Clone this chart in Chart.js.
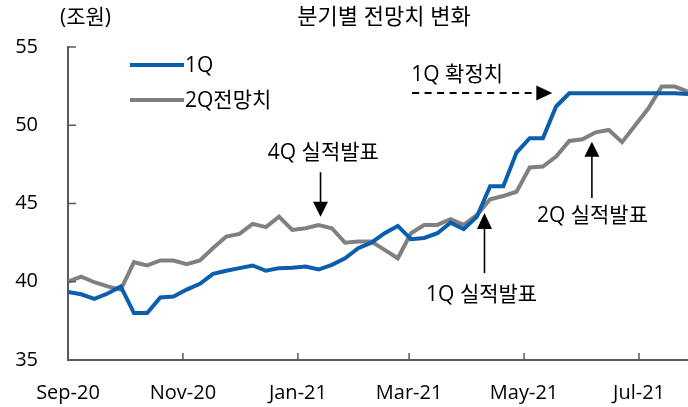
<!DOCTYPE html>
<html><head><meta charset="utf-8">
<script src="https://cdn.jsdelivr.net/npm/chart.js@4/dist/chart.umd.min.js"></script>
<style>html,body{margin:0;padding:0;background:#fff}#wrap{width:688px;height:407px}</style>
</head><body><div id="wrap"><canvas id="c" width="688" height="407"></canvas></div>
<script>
// ---- data ----
const weeks = [
 '2020-09-01','2020-09-08','2020-09-15','2020-09-22','2020-09-29',
 '2020-10-06','2020-10-13','2020-10-20','2020-10-27',
 '2020-11-03','2020-11-10','2020-11-17','2020-11-24',
 '2020-12-01','2020-12-08','2020-12-15','2020-12-22','2020-12-29',
 '2021-01-05','2021-01-12','2021-01-19','2021-01-26',
 '2021-02-02','2021-02-09','2021-02-16','2021-02-23',
 '2021-03-02','2021-03-09','2021-03-16','2021-03-23','2021-03-30',
 '2021-04-06','2021-04-13','2021-04-20','2021-04-27',
 '2021-05-04','2021-05-11','2021-05-18','2021-05-25',
 '2021-06-01','2021-06-08','2021-06-15','2021-06-22','2021-06-29',
 '2021-07-06','2021-07-13','2021-07-20','2021-07-27'
];
const series1Q = [39.35,39.2,38.9,39.25,39.7,38.0,38.0,39.0,39.05,39.5,39.87,40.5,40.7,40.87,41.04,40.7,40.87,40.9,40.97,40.78,41.08,41.5,42.14,42.5,43.1,43.57,42.72,42.8,43.1,43.78,43.36,44.16,46.1,46.1,48.25,49.17,49.17,51.2,52.04,52.04,52.04,52.04,52.04,52.04,52.04,52.04,52.04,52.0];
const series2Q = [40.0,40.33,39.97,39.7,39.5,41.25,41.04,41.36,41.36,41.12,41.36,42.15,42.89,43.06,43.7,43.49,44.16,43.31,43.42,43.63,43.42,42.5,42.57,42.57,42.04,41.5,43.1,43.63,43.63,44.0,43.63,44.27,45.27,45.48,45.75,47.3,47.36,48.0,49.0,49.1,49.55,49.7,48.92,50.0,51.08,52.47,52.47,52.15];
const seriesNames = ['1Q','2Q전망치'];
const tickDates = ['2020-09-01','2020-11-01','2021-01-01','2021-03-01','2021-05-01','2021-07-01'];
const tickLabels = ['Sep-20','Nov-20','Jan-21','Mar-21','May-21','Jul-21'];
const yTicks = [35,40,45,50,55];
const titleText = '분기별 전망치 변화';
const unitText = '(조원)';

// ---- helpers ----
const T0 = Date.parse('2020-09-01');
const dayOf = s => (Date.parse(s) - T0) / 86400000;
const xDays = weeks.map(dayOf);
const tickDays = tickDates.map(dayOf);
const F = '"Open Sans","Noto Sans CJK KR",sans-serif';
const BLUE = '#0B5DAE', GRAY = '#808080', AXIS = '#595959';

function arrowHead(ctx, tx, ty, dir, w, h){ // dir: 'down','up','right'
  ctx.beginPath();
  if(dir==='down'){ctx.moveTo(tx,ty);ctx.lineTo(tx-w/2,ty-h);ctx.lineTo(tx+w/2,ty-h);}
  else if(dir==='up'){ctx.moveTo(tx,ty);ctx.lineTo(tx-w/2,ty+h);ctx.lineTo(tx+w/2,ty+h);}
  else {ctx.moveTo(tx,ty);ctx.lineTo(tx-h,ty-w/2);ctx.lineTo(tx-h,ty+w/2);}
  ctx.closePath(); ctx.fill();
}

const deco = {
  id:'deco',
  afterDatasetsDraw(chart){
    const {ctx, chartArea:ca, scales:{x,y}} = chart;
    ctx.save();
    // inner tick marks
    ctx.strokeStyle = AXIS; ctx.lineWidth = 1.5;
    yTicks.forEach(v=>{ if(v===35) return; const py=y.getPixelForValue(v);
      ctx.beginPath(); ctx.moveTo(ca.left,py); ctx.lineTo(ca.left+8,py); ctx.stroke(); });
    tickDays.forEach(d=>{ if(d===0) return; const px=x.getPixelForValue(d);
      ctx.beginPath(); ctx.moveTo(px,ca.bottom); ctx.lineTo(px,ca.bottom-7); ctx.stroke(); });

    ctx.fillStyle = '#000'; ctx.textBaseline = 'middle';
    // title & unit
    ctx.font = '22px '+F; ctx.textAlign='center';
    ctx.fillText(titleText, 384, 18);
    ctx.font = '21px '+F; ctx.textAlign='left';
    ctx.fillText(unitText, 60, 18);

    // legend
    [[BLUE,65,seriesNames[0]],[GRAY,100,seriesNames[1]]].forEach(([c,ly,t])=>{
      ctx.strokeStyle=c; ctx.lineWidth=4; ctx.beginPath(); ctx.moveTo(130,ly); ctx.lineTo(184,ly); ctx.stroke();
      ctx.fillStyle='#000'; ctx.font='21px '+F; ctx.textAlign='left'; ctx.fillText(t,185,ly+1);
    });

    // annotations
    ctx.strokeStyle='#000'; ctx.fillStyle='#000'; ctx.lineWidth=1.6;
    ctx.font='21px '+F; ctx.textAlign='center';
    // 4Q (down arrow)
    let ax=x.getPixelForValue(134), y1=y.getPixelForValue(47.0), y2=y.getPixelForValue(44.15);
    ctx.beginPath(); ctx.moveTo(ax,y1); ctx.lineTo(ax,y2-12); ctx.stroke(); arrowHead(ctx,ax,y2,'down',15,15);
    ctx.fillText('4Q 실적발표', x.getPixelForValue(135.5), y1-19);
    // 1Q (up arrow)
    ax=x.getPixelForValue(221); y1=y.getPixelForValue(40.55); y2=y.getPixelForValue(44.4);
    ctx.beginPath(); ctx.moveTo(ax,y1); ctx.lineTo(ax,y2+12); ctx.stroke(); arrowHead(ctx,ax,y2,'up',15,16);
    ctx.fillText('1Q 실적발표', x.getPixelForValue(219.5), y1+22);
    // 2Q (up arrow)
    ax=x.getPixelForValue(278); y1=y.getPixelForValue(45.35); y2=y.getPixelForValue(48.95);
    ctx.beginPath(); ctx.moveTo(ax,y1); ctx.lineTo(ax,y2+12); ctx.stroke(); arrowHead(ctx,ax,y2,'up',15,15);
    ctx.fillText('2Q 실적발표', x.getPixelForValue(278.3), y1+18);
    // 1Q 확정치 (dashed right arrow)
    const dy=y.getPixelForValue(52.06), dx1=x.getPixelForValue(182.6), dx2=x.getPixelForValue(257);
    ctx.lineWidth=2; ctx.setLineDash([7,5.5]);
    ctx.beginPath(); ctx.moveTo(dx1,dy); ctx.lineTo(dx2-12,dy); ctx.stroke(); ctx.setLineDash([]);
    arrowHead(ctx,dx2,dy,'right',15,16);
    ctx.fillText('1Q 확정치', x.getPixelForValue(206.5), dy-18);
    ctx.restore();
  }
};

new Chart(document.getElementById('c'), {
  type:'line',
  data:{ datasets:[
    {label:seriesNames[0], data:xDays.map((d,i)=>({x:d,y:series1Q[i]})), borderColor:BLUE, borderWidth:4, pointRadius:0, tension:0, fill:false},
    {label:seriesNames[1], data:xDays.map((d,i)=>({x:d,y:series2Q[i]})), borderColor:GRAY, borderWidth:4, pointRadius:0, tension:0, fill:false}
  ]},
  options:{
    responsive:false, animation:false, devicePixelRatio:1,
    layout:{padding:{top:47,right:0,left:0,bottom:0}},
    plugins:{legend:{display:false}, tooltip:{enabled:false}, title:{display:false}},
    scales:{
      x:{type:'linear', min:0, max:329,
        afterBuildTicks:s=>{ s.ticks = tickDays.map(v=>({value:v})); },
        afterFit:s=>{ s.height = 47; },
        grid:{display:false}, border:{display:true,color:AXIS,width:2},
        ticks:{autoSkip:false, maxRotation:0, padding:13, color:'#000', font:{family:F,size:20},
          callback:v=>{ const k=tickDays.indexOf(v); return k>=0?tickLabels[k]:''; }}
      },
      y:{min:35, max:55,
        afterBuildTicks:s=>{ s.ticks = yTicks.map(v=>({value:v})); },
        afterFit:s=>{ s.width = 68; },
        grid:{display:false}, border:{display:true,color:AXIS,width:2},
        ticks:{padding:22, color:'#000', font:{family:F,size:20}}
      }
    }
  },
  plugins:[deco]
});
</script></body></html>
